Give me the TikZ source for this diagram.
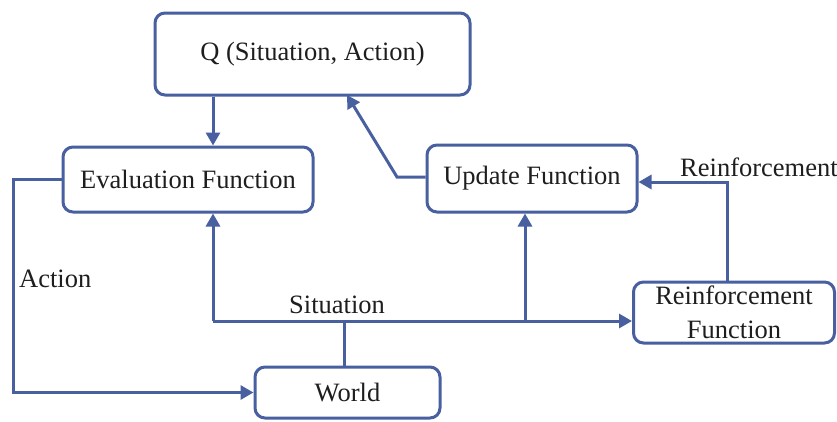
\documentclass[tikz,border=0pt]{standalone}
\usepackage{fontspec}
\setmainfont{Liberation Serif}
\usetikzlibrary{arrows.meta}
\definecolor{lineblue}{RGB}{72,96,160}
\definecolor{txt}{RGB}{30,30,30}
\tikzset{
  box/.style={draw=lineblue, line width=3pt, rounded corners=10pt, fill=white,
    inner sep=0pt, text=txt, align=center},
  conn/.style={draw=lineblue, line width=3pt},
  arr/.style={conn, -{Triangle[length=13pt,width=14pt]}},
  lbl/.style={text=txt, inner sep=0pt},
}
\begin{document}
\begin{tikzpicture}[x=1pt,y=-1pt,font=\fontsize{26.5}{33}\selectfont]
\useasboundingbox[fill=white] (0,0) rectangle (837,421);
% boxes
\node[box, minimum width=315pt, minimum height=82pt] (Q) at (312.5,54) {Q (Situation, Action)};
\node[box, minimum width=250pt, minimum height=65pt] (E) at (188,179.5) {Evaluation Function};
\node[box, minimum width=210pt, minimum height=67pt] (U) at (532,178.5) {Update Function};
\node[box, minimum width=185pt, minimum height=51pt] (W) at (347.5,392.5) {World};
\node[box, minimum width=201pt, minimum height=61pt] (R) at (734,312.5) {Reinforcement\\[1pt]Function};
% helper coordinates
\coordinate (xq) at (213,0);
\coordinate (sit) at (344,321);
\coordinate (sitL) at (213,321);
\coordinate (sitJ) at (525,321);
\coordinate (act) at (13,0);
\coordinate (qtip) at (347,95);
\coordinate (ubend) at (397,177);
\coordinate (rup) at (727,182);
% connectors
\draw[arr] (Q.south -| xq) -- (E.north -| xq);
\draw[arr] (E.west) -- (E.west -| act) |- (W.west);
\draw[conn] (W.north -| sit) -- (sit);
\draw[arr] (sitL) -- (E.south -| sitL);
\draw[arr] (sitL) -- (R.west |- sitL);
\draw[arr] (sitJ) -- (U.south -| sitJ);
\draw[arr] (U.west |- ubend) -- (ubend) -- (qtip);
\draw[arr] (R.north -| rup) -- (rup) -- (U.east |- rup);
% labels
\node[lbl, anchor=west] (la) at (19,279) {Action};
\node[lbl] (ls) at (337,305) {Situation};
\node[lbl, anchor=west] (lr) at (680,167) {Reinforcement};
\end{tikzpicture}
\end{document}
